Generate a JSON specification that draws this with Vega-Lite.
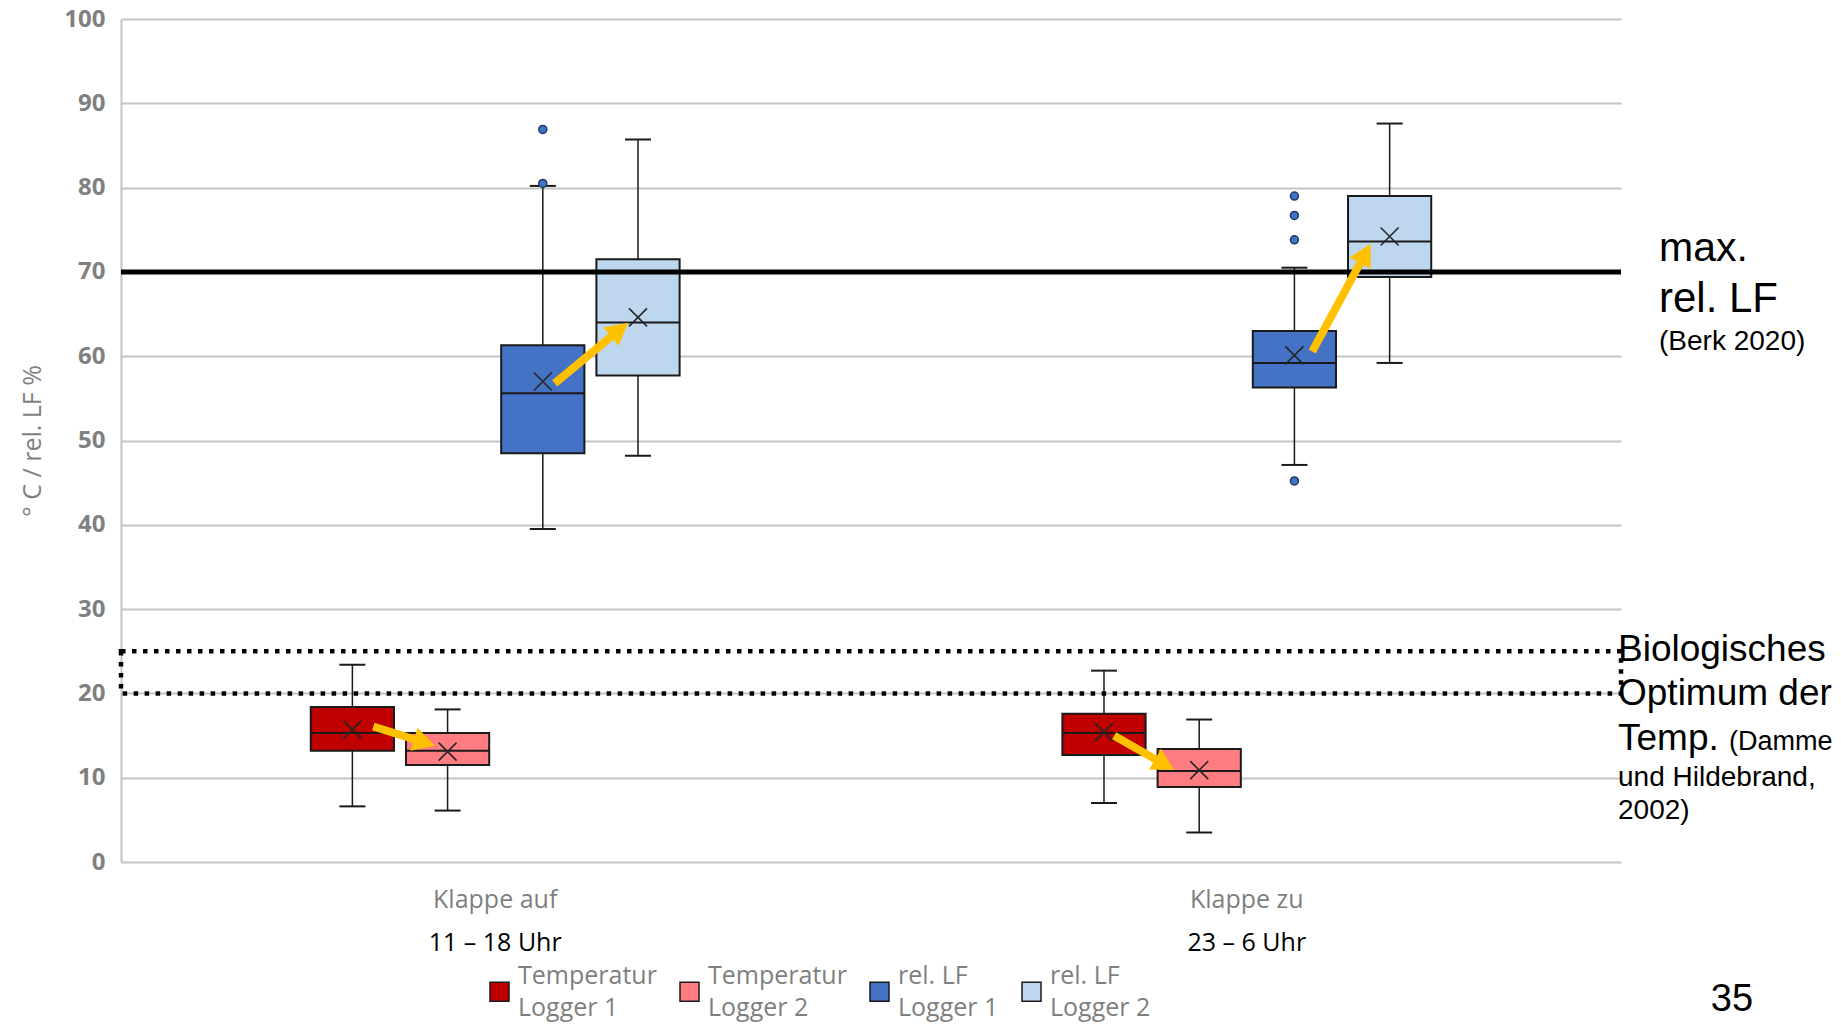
{
  "$schema": "https://vega.github.io/schema/vega-lite/v6.json",
  "width": 1500,
  "height": 843,
  "autosize": "none",
  "padding": {"left": 121, "top": 19, "right": 220, "bottom": 162},
  "background": "white",
  "data": {"values": [{}]},
  "datasets": {
    "stats": [
      {"group": "Klappe auf", "series": "Temperatur Logger 1", "min": 6.6, "q1": 13.2, "median": 15.3, "q3": 18.4, "max": 23.4, "mean": 15.7},
      {"group": "Klappe auf", "series": "Temperatur Logger 2", "min": 6.1, "q1": 11.5, "median": 13.2, "q3": 15.3, "max": 18.1, "mean": 13.1},
      {"group": "Klappe auf", "series": "rel. LF Logger 1", "min": 39.5, "q1": 48.5, "median": 55.6, "q3": 61.3, "max": 80.2, "mean": 57.0},
      {"group": "Klappe auf", "series": "rel. LF Logger 2", "min": 48.2, "q1": 57.7, "median": 64.0, "q3": 71.5, "max": 85.7, "mean": 64.6},
      {"group": "Klappe zu", "series": "Temperatur Logger 1", "min": 7.0, "q1": 12.7, "median": 15.3, "q3": 17.6, "max": 22.7, "mean": 15.4},
      {"group": "Klappe zu", "series": "Temperatur Logger 2", "min": 3.5, "q1": 8.9, "median": 10.8, "q3": 13.4, "max": 16.9, "mean": 10.9},
      {"group": "Klappe zu", "series": "rel. LF Logger 1", "min": 47.1, "q1": 56.3, "median": 59.2, "q3": 63.0, "max": 70.5, "mean": 60.1},
      {"group": "Klappe zu", "series": "rel. LF Logger 2", "min": 59.2, "q1": 69.4, "median": 73.6, "q3": 79.0, "max": 87.6, "mean": 74.2}
    ],
    "outliers": [
      {"group": "Klappe auf", "series": "rel. LF Logger 1", "value": 86.9},
      {"group": "Klappe auf", "series": "rel. LF Logger 1", "value": 80.5},
      {"group": "Klappe zu", "series": "rel. LF Logger 1", "value": 79.0},
      {"group": "Klappe zu", "series": "rel. LF Logger 1", "value": 76.7},
      {"group": "Klappe zu", "series": "rel. LF Logger 1", "value": 73.8},
      {"group": "Klappe zu", "series": "rel. LF Logger 1", "value": 45.2}
    ]
  },
  "config": {
    "view": {"stroke": null},
    "style": {"guide-label": {"lineHeight": 32}},
    "axisY": {
      "grid": true, "gridColor": "#c4c4c4", "gridWidth": 2,
      "domain": true, "domainColor": "#c4c4c4", "domainWidth": 2,
      "ticks": false,
      "labelFont": "Open Sans", "labelFontSize": 24, "labelFontWeight": "bold", "labelColor": "#808080", "labelPadding": 16,
      "titleFont": "Open Sans", "titleFontSize": 25, "titleColor": "#7f7f7f", "titleFontWeight": "normal", "titlePadding": 18
    }
  },
  "resolve": {"axis": {"x": "independent"}},
  "layer": [
    {
      "data": {"name": "stats"},
      "mark": {"type": "rule", "color": "#1a1a1a", "strokeWidth": 1.5},
      "encoding": {
        "x": {"field": "group", "type": "nominal", "scale": {"domain": ["Klappe auf", "Klappe zu"], "paddingInner": 0.4933, "paddingOuter": 0.2445},
              "axis": {"orient": "bottom", "title": null, "domain": false, "ticks": false, "grid": false, "labelAngle": 0,
                       "labelFont": "Open Sans", "labelFontSize": 25, "labelColor": "#7f7f7f", "labelPadding": 25}},
        "xOffset": {"field": "series", "type": "nominal", "scale": {"domain": ["Temperatur Logger 1", "Temperatur Logger 2", "rel. LF Logger 1", "rel. LF Logger 2"], "paddingInner": 0.126, "paddingOuter": 0.063}},
        "y": {"field": "min", "type": "quantitative", "scale": {"domain": [0, 100], "nice": false},
              "axis": {"values": [0, 10, 20, 30, 40, 50, 60, 70, 80, 90, 100], "title": "° C / rel. LF %"}},
        "y2": {"field": "max"}
      }
    },
    {
      "data": {"name": "stats"},
      "mark": {"type": "bar", "stroke": "#1a1a1a", "strokeWidth": 2},
      "encoding": {
        "x": {"field": "group", "type": "nominal",
              "axis": {"orient": "bottom", "title": null, "domain": false, "ticks": false, "grid": false, "labelAngle": 0,
                       "labelExpr": "datum.value == 'Klappe auf' ? '11 – 18 Uhr' : '23 – 6 Uhr'",
                       "labelFont": "Open Sans", "labelFontSize": 25, "labelColor": "#000000", "labelPadding": 68}},
        "xOffset": {"field": "series", "type": "nominal"},
        "y": {"field": "q1", "type": "quantitative"},
        "y2": {"field": "q3"},
        "color": {"field": "series", "type": "nominal",
                  "scale": {"domain": ["Temperatur Logger 1", "Temperatur Logger 2", "rel. LF Logger 1", "rel. LF Logger 2"],
                            "range": ["#c00000", "#ff7c80", "#4472c4", "#bdd7ee"]},
                  "legend": {"orient": "none", "legendX": 366, "legendY": 960, "direction": "horizontal", "title": null,
                             "symbolType": "square", "symbolSize": 361, "symbolStrokeColor": "#1a1a1a", "symbolStrokeWidth": 1.5, "symbolOpacity": 1,
                             "labelFont": "Open Sans", "labelFontSize": 25, "labelColor": "#7f7f7f", "labelOffset": 6, "labelLimit": 400,
                             "columnPadding": 20,
                             "labelExpr": "split(replace(datum.label, ' Logger', '|Logger'), '|')",
                             "encode": {"labels": {"update": {"dy": {"value": -16}}}}}}
      }
    },
    {
      "data": {"name": "stats"},
      "mark": {"type": "tick", "color": "#1a1a1a", "thickness": 2, "size": 83, "opacity": 1},
      "encoding": {
        "x": {"field": "group", "type": "nominal", "axis": null},
        "xOffset": {"field": "series", "type": "nominal"},
        "y": {"field": "median", "type": "quantitative"}
      }
    },
    {
      "data": {"name": "stats"},
      "mark": {"type": "tick", "color": "#1a1a1a", "thickness": 2, "size": 26, "opacity": 1},
      "encoding": {
        "x": {"field": "group", "type": "nominal", "axis": null},
        "xOffset": {"field": "series", "type": "nominal"},
        "y": {"field": "max", "type": "quantitative"}
      }
    },
    {
      "data": {"name": "stats"},
      "mark": {"type": "tick", "color": "#1a1a1a", "thickness": 2, "size": 26, "opacity": 1},
      "encoding": {
        "x": {"field": "group", "type": "nominal", "axis": null},
        "xOffset": {"field": "series", "type": "nominal"},
        "y": {"field": "min", "type": "quantitative"}
      }
    },
    {
      "data": {"name": "stats"},
      "mark": {"type": "point", "shape": "M-1,-1L1,1M1,-1L-1,1", "size": 324, "filled": false, "stroke": "#262626", "strokeWidth": 1.6, "opacity": 1},
      "encoding": {
        "x": {"field": "group", "type": "nominal", "axis": null},
        "xOffset": {"field": "series", "type": "nominal"},
        "y": {"field": "mean", "type": "quantitative"}
      }
    },
    {
      "data": {"name": "outliers"},
      "mark": {"type": "point", "shape": "circle", "size": 64, "filled": true, "fill": "#4472c4", "stroke": "#1f3864", "strokeWidth": 1.5, "opacity": 1},
      "encoding": {
        "x": {"field": "group", "type": "nominal", "axis": null},
        "xOffset": {"field": "series", "type": "nominal"},
        "y": {"field": "value", "type": "quantitative"}
      }
    },
    {
      "mark": {"type": "rule", "color": "#000000", "strokeWidth": 5},
      "encoding": {"y": {"datum": 70}}
    },
    {
      "mark": {"type": "rect", "fill": null, "fillOpacity": 0, "stroke": "#000000", "strokeWidth": 4.5, "strokeDash": [4.5, 6.5]},
      "encoding": {"y": {"datum": 20}, "y2": {"datum": 25}}
    },
    {
      "data": {"name": "stats"},
      "transform": [{"filter": "datum.group == 'Klappe auf' && datum.series == 'rel. LF Logger 2'"}],
      "mark": {"type": "point", "shape": "M-80.8,69L-24.4,22.4L-19.3,28.6L-10,5.3L-34.6,10.1L-29.5,16.2L-85.9,62.8Z", "size": 4, "filled": true, "fill": "#ffc000", "strokeWidth": 0, "opacity": 1},
      "encoding": {
        "x": {"field": "group", "type": "nominal", "axis": null},
        "xOffset": {"field": "series", "type": "nominal"},
        "y": {"field": "mean", "type": "quantitative"}
      }
    },
    {
      "data": {"name": "stats"},
      "transform": [{"filter": "datum.group == 'Klappe zu' && datum.series == 'rel. LF Logger 2'"}],
      "mark": {"type": "point", "shape": "M-73.9,116.9L-26,28.6L-18.9,32.4L-19,7.3L-40,20.9L-33,24.7L-80.9,113.1Z", "size": 4, "filled": true, "fill": "#ffc000", "strokeWidth": 0, "opacity": 1},
      "encoding": {
        "x": {"field": "group", "type": "nominal", "axis": null},
        "xOffset": {"field": "series", "type": "nominal"},
        "y": {"field": "mean", "type": "quantitative"}
      }
    },
    {
      "data": {"name": "stats"},
      "transform": [{"filter": "datum.group == 'Klappe auf' && datum.series == 'Temperatur Logger 2'"}],
      "mark": {"type": "point", "shape": "M-75.5,-21.2L-34.8,-8.5L-37.2,-0.8L-12.6,-5.7L-30,-23.7L-32.4,-16.1L-73.1,-28.8Z", "size": 4, "filled": true, "fill": "#ffc000", "strokeWidth": 0, "opacity": 1},
      "encoding": {
        "x": {"field": "group", "type": "nominal", "axis": null},
        "xOffset": {"field": "series", "type": "nominal"},
        "y": {"field": "mean", "type": "quantitative"}
      }
    },
    {
      "data": {"name": "stats"},
      "transform": [{"filter": "datum.group == 'Klappe zu' && datum.series == 'Temperatur Logger 2'"}],
      "mark": {"type": "point", "shape": "M-87,-30.8L-46.1,-7.5L-50.1,-0.5L-25,0L-38.2,-21.3L-42.1,-14.4L-83,-37.8Z", "size": 4, "filled": true, "fill": "#ffc000", "strokeWidth": 0, "opacity": 1},
      "encoding": {
        "x": {"field": "group", "type": "nominal", "axis": null},
        "xOffset": {"field": "series", "type": "nominal"},
        "y": {"field": "mean", "type": "quantitative"}
      }
    },
    {
      "mark": {"type": "text", "text": "max.", "align": "left", "baseline": "middle", "font": "Liberation Sans", "fontSize": 41, "color": "#000000", "dx": 38},
      "encoding": {"x": {"value": "width"}, "y": {"datum": 72.7}}
    },
    {
      "mark": {"type": "text", "text": "rel. LF", "align": "left", "baseline": "middle", "font": "Liberation Sans", "fontSize": 42, "color": "#000000", "dx": 38},
      "encoding": {"x": {"value": "width"}, "y": {"datum": 66.8}}
    },
    {
      "mark": {"type": "text", "text": "(Berk 2020)", "align": "left", "baseline": "middle", "font": "Liberation Sans", "fontSize": 28, "color": "#000000", "dx": 38},
      "encoding": {"x": {"value": "width"}, "y": {"datum": 61.7}}
    },
    {
      "mark": {"type": "text", "text": "Biologisches", "align": "left", "baseline": "middle", "font": "Liberation Sans", "fontSize": 37, "color": "#000000", "dx": -3},
      "encoding": {"x": {"value": "width"}, "y": {"datum": 25.2}}
    },
    {
      "mark": {"type": "text", "text": "Optimum der", "align": "left", "baseline": "middle", "font": "Liberation Sans", "fontSize": 37, "color": "#000000", "dx": -3},
      "encoding": {"x": {"value": "width"}, "y": {"datum": 19.9}}
    },
    {
      "mark": {"type": "text", "text": "Temp.", "align": "left", "baseline": "alphabetic", "font": "Liberation Sans", "fontSize": 37, "color": "#000000", "dx": -3},
      "encoding": {"x": {"value": "width"}, "y": {"datum": 13.3}}
    },
    {
      "mark": {"type": "text", "text": "(Damme", "align": "left", "baseline": "alphabetic", "font": "Liberation Sans", "fontSize": 27, "color": "#000000", "dx": 108},
      "encoding": {"x": {"value": "width"}, "y": {"datum": 13.3}}
    },
    {
      "mark": {"type": "text", "text": "und Hildebrand,", "align": "left", "baseline": "alphabetic", "font": "Liberation Sans", "fontSize": 28, "color": "#000000", "dx": -3},
      "encoding": {"x": {"value": "width"}, "y": {"datum": 9.0}}
    },
    {
      "mark": {"type": "text", "text": "2002)", "align": "left", "baseline": "alphabetic", "font": "Liberation Sans", "fontSize": 28, "color": "#000000", "dx": -3},
      "encoding": {"x": {"value": "width"}, "y": {"datum": 5.1}}
    },
    {
      "mark": {"type": "text", "text": "35", "align": "center", "baseline": "middle", "font": "Liberation Sans", "fontSize": 38, "color": "#000000", "dx": 111},
      "encoding": {"x": {"value": "width"}, "y": {"datum": -16.4}}
    }
  ]
}
